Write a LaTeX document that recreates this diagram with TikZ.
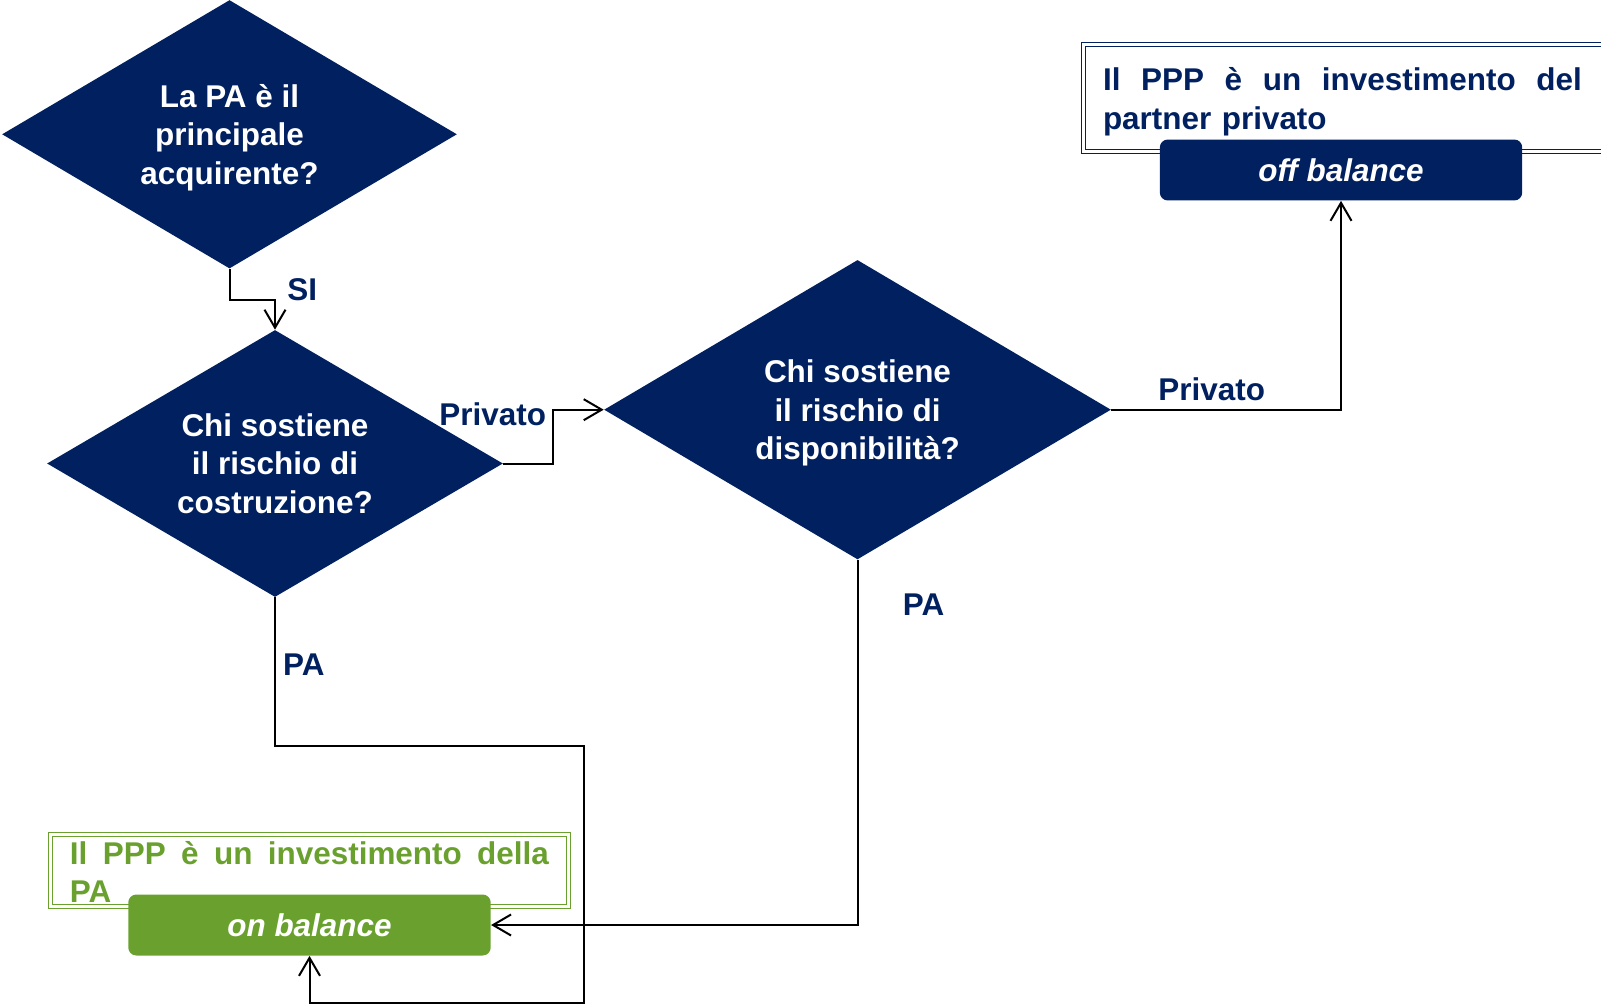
\documentclass[tikz,border=0pt]{standalone}
\usepackage{fontspec}
\setmainfont{Liberation Sans}
\usepackage{tikz}
\usetikzlibrary{shapes.geometric}
\usetikzlibrary{arrows.meta}

\definecolor{pablue}{RGB}{0,32,96}
\definecolor{pagreen}{RGB}{106,161,46}

\begin{document}
\begin{tikzpicture}[x=0.02cm, y=-0.02cm,
    txt/.style={font=\fontsize{17.9pt}{22pt}\selectfont\bfseries},
    question/.style={txt, diamond, aspect=1.7, fill=pablue, text=white, align=center,
        inner sep=0pt, text depth=0pt},
    result/.style={rounded corners=0.16cm, text=white, inner sep=0pt,
        minimum width=7.25cm, minimum height=1.22cm,
        font=\fontsize{17.9pt}{22pt}\selectfont\bfseries\itshape},
    note/.style={txt, double=white, line width=0.02cm, double distance=0.06cm,
        inner xsep=0.4cm, inner ysep=0pt, align=left, anchor=base west},
    answer/.style={txt, text=pablue, inner sep=0pt, anchor=base west},
    flow/.style={line width=0.04cm, -{Straight Barb[length=0.36cm,width=0.42cm]}}]
    \useasboundingbox (0,0) rectangle (1601,1006);

    \node[question, minimum width=9.1cm, minimum height=5.37cm] (q1) at (229.5,134.3)
        {La PA è il\\principale\\acquirente?};
    \node[question, minimum width=9.12cm, minimum height=5.34cm] (q2) at (275,463.5)
        {Chi sostiene\\il rischio di\\costruzione?};
    \node[question, minimum width=10.14cm, minimum height=5.99cm] (q3) at (857.5,409.7)
        {Chi sostiene\\il rischio di\\disponibilità?};

    \node[note, draw=pablue, text=pablue, text width=10cm, text height=0.93cm, text depth=1.21cm]
        (privnote) at (1082.5,91)
        {\hbox to 9.58cm{Il\hfill PPP\hfill è\hfill un\hfill investimento\hfill del}\\partner privato};
    \node[note, draw=pagreen, text=pagreen, text width=9.58cm, text height=0.59cm, text depth=0.85cm]
        (panote) at (49.5,864)
        {\hbox to 9.58cm{Il\hfill PPP\hfill è\hfill un\hfill investimento\hfill della}\\PA};

    \node[result, fill=pablue] (offbal) at (1341,170) {off balance};
    \node[result, fill=pagreen] (onbal) at (309.5,925) {on balance};

    \coordinate (turn) at (584,1002.6);
    \draw[flow] (q1.south) -- ++(0,31.5) -| (q2.north);
    \draw[flow] (q2.east) -- ++(50,0) |- (q3.west);
    \draw[flow] (q3.east) -| (offbal.south);
    \draw[flow] (q3.south) |- (onbal.east);
    \draw[flow] (q2.south) -- ++(0,149) -| (turn) -| (onbal.south);

    \node[answer] (si) at (287,300.3) {SI};
    \node[answer] (priv1) at (439,425.8) {Privato};
    \node[answer] (priv2) at (1158,400.3) {Privato};
    \node[answer] (pa1) at (282.8,675) {PA};
    \node[answer] (pa2) at (902.6,615.8) {PA};
\end{tikzpicture}
\end{document}
